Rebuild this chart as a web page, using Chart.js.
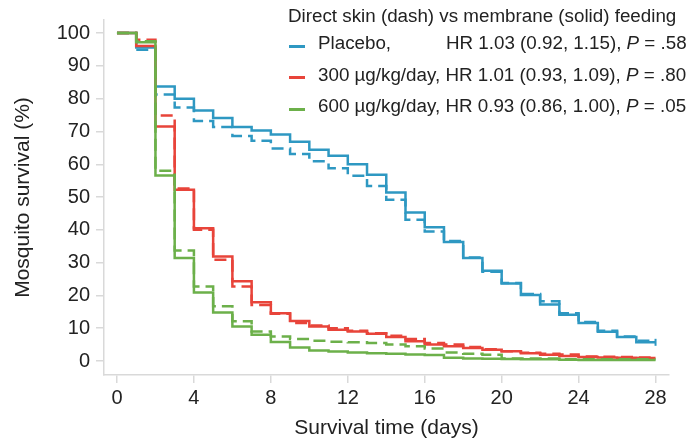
<!DOCTYPE html>
<html>
<head>
<meta charset="utf-8">
<script src="https://cdn.jsdelivr.net/npm/chart.js@4.4.1/dist/chart.umd.min.js"></script>
<style>
  body { margin: 0; background: #fff; }
  #wrap { position: relative; width: 695px; height: 443px; font-family: 'Liberation Sans', Arial, sans-serif; color: #222; }
  #chart { position: absolute; left: 0; top: 0; }
  .lg { position: absolute; font-size: 18.8px; line-height: 18.8px; white-space: nowrap; }
  .sw { position: absolute; width: 16px; height: 2.5px; }
  .lg i { font-style: italic; }
</style>
</head>
<body>
<div id="wrap">
  <canvas id="chart" width="695" height="443"></canvas>
  <div class="lg" style="left:288px; top:7px;">Direct skin (dash) vs membrane (solid) feeding</div>

  <div class="sw" style="left:289px; top:45px; background:#2e98c2;"></div>
  <div class="lg" style="left:318px; top:34px;">Placebo,</div>
  <div class="lg" style="left:446px; top:34px;">HR 1.03 (0.92, 1.15), <i>P</i> = .58</div>

  <div class="sw" style="left:289px; top:76px; background:#e8443a;"></div>
  <div class="lg" style="left:318px; top:66px;">300 µg/kg/day, HR 1.01 (0.93, 1.09), <i>P</i> = .80</div>

  <div class="sw" style="left:289px; top:108px; background:#6cb04a;"></div>
  <div class="lg" style="left:318px; top:97px;">600 µg/kg/day, HR 0.93 (0.86, 1.00), <i>P</i> = .05</div>
</div>
<script>
// Survival (%) on [day, day+1)
const days = [0, 1, 2, 3, 4, 5, 6, 7, 8, 9, 10, 11, 12, 13, 14, 15, 16, 17, 18, 19, 20, 21, 22, 23, 24, 25, 26, 27, 28];
const xTicks = [0, 4, 8, 12, 16, 20, 24, 28];
const yTicks = [0, 10, 20, 30, 40, 50, 60, 70, 80, 90, 100];

const placeboMembrane = [100, 95.6, 83.7, 80.0, 76.4, 74.1, 71.4, 70.3, 69.1, 66.9, 64.4, 62.6, 60.0, 56.8, 51.4, 45.3, 40.8, 36.3, 31.4, 27.5, 23.6, 20.1, 17.2, 14.1, 11.6, 8.9, 7.3, 5.7, 5.7];
const placeboSkin     = [100, 94.9, 81.3, 77.3, 73.2, 71.4, 68.6, 67.2, 64.8, 63.1, 60.9, 58.8, 56.5, 53.4, 49.2, 43.1, 39.5, 36.6, 31.6, 27.2, 23.8, 20.4, 18.2, 14.6, 11.9, 9.2, 7.5, 6.2, 6.2];
const dose300Membrane = [100, 96.1, 71.5, 52.2, 40.5, 31.9, 24.3, 17.9, 14.6, 12.2, 10.5, 9.5, 9.0, 8.3, 7.3, 6.0, 5.0, 4.5, 4.0, 3.4, 3.0, 2.4, 1.9, 1.5, 1.2, 1.1, 1.0, 0.9, 0.9];
const dose300Skin     = [100, 98.0, 74.9, 52.6, 40.0, 30.9, 22.7, 17.1, 14.4, 11.6, 10.8, 10.0, 9.2, 8.5, 7.7, 6.7, 5.5, 5.0, 4.3, 3.6, 3.0, 2.5, 2.2, 2.0, 1.4, 1.3, 1.2, 1.1, 1.1];
const dose600Membrane = [100, 97.2, 56.6, 31.4, 20.9, 14.8, 10.5, 8.0, 5.8, 4.1, 3.2, 2.9, 2.6, 2.4, 2.2, 2.0, 1.8, 1.0, 0.8, 0.7, 0.6, 0.5, 0.5, 0.4, 0.3, 0.3, 0.3, 0.3, 0.3];
const dose600Skin     = [100, 97.5, 58.0, 33.7, 22.7, 16.7, 12.1, 9.0, 7.5, 6.7, 6.2, 5.9, 5.7, 5.5, 5.0, 4.5, 3.8, 2.6, 2.2, 1.9, 0.8, 0.8, 0.8, 0.5, 0.5, 0.5, 0.5, 0.5, 0.5];

const BLUE = '#2e98c2';
const RED = '#e8443a';
const GREEN = '#6cb04a';
const AXIS = '#d9d9d9';
const TEXT = '#222';
const FAMILY = "'Liberation Sans', Arial, sans-serif";

function series(label, values, color, dashed, endMark) {
  return {
    label: label,
    data: values.map((v, i) => ({ x: days[i], y: v })),
    borderColor: color,
    borderWidth: 2.5,
    borderDash: dashed ? [12, 6] : [],
    stepped: 'before',
    fill: false,
    pointStyle: 'line',
    rotation: 90,
    pointBorderColor: color,
    pointBorderWidth: 2,
    pointRadius: c => (endMark && c.dataIndex === values.length - 1) ? 3.5 : 0
  };
}

new Chart(document.getElementById('chart').getContext('2d'), {
  type: 'line',
  data: {
    datasets: [
      series('600 membrane', dose600Membrane, GREEN, false),
      series('600 skin', dose600Skin, GREEN, true),
      series('300 membrane', dose300Membrane, RED, false),
      series('300 skin', dose300Skin, RED, true),
      series('Placebo membrane', placeboMembrane, BLUE, false, true),
      series('Placebo skin', placeboSkin, BLUE, true)
    ]
  },
  options: {
    responsive: false,
    animation: false,
    layout: { padding: { top: 20, right: 26, left: 0, bottom: 0 } },
    plugins: { legend: { display: false }, tooltip: { enabled: false } },
    scales: {
      x: {
        type: 'linear',
        min: -0.675,
        max: 28.7,
        afterFit: s => { s.height = 68; },
        afterBuildTicks: s => { s.ticks = xTicks.map(v => ({ value: v })); },
        grid: { drawOnChartArea: false, drawTicks: true, tickLength: 8, color: AXIS, lineWidth: 1.5 },
        border: { display: true, color: AXIS, width: 1.5 },
        ticks: { autoSkip: false, maxRotation: 0, padding: 3, color: TEXT, font: { family: FAMILY, size: 20 } },
        title: { display: true, text: 'Survival time (days)', color: TEXT, font: { family: FAMILY, size: 21 }, padding: { top: 0, bottom: 2 } }
      },
      y: {
        type: 'linear',
        min: -4.27,
        max: 104.0,
        afterFit: s => { s.width = 104; },
        afterBuildTicks: s => { s.ticks = yTicks.map(v => ({ value: v })); },
        grid: { drawOnChartArea: false, drawTicks: true, tickLength: 8, color: AXIS, lineWidth: 1.5 },
        border: { display: true, color: AXIS, width: 1.5 },
        ticks: { autoSkip: false, padding: 6, color: TEXT, font: { family: FAMILY, size: 20 } },
        title: { display: true, text: 'Mosquito survival (%)', color: TEXT, font: { family: FAMILY, size: 21 }, padding: { top: 11, bottom: 0 } }
      }
    }
  }
});
</script>
</body>
</html>
